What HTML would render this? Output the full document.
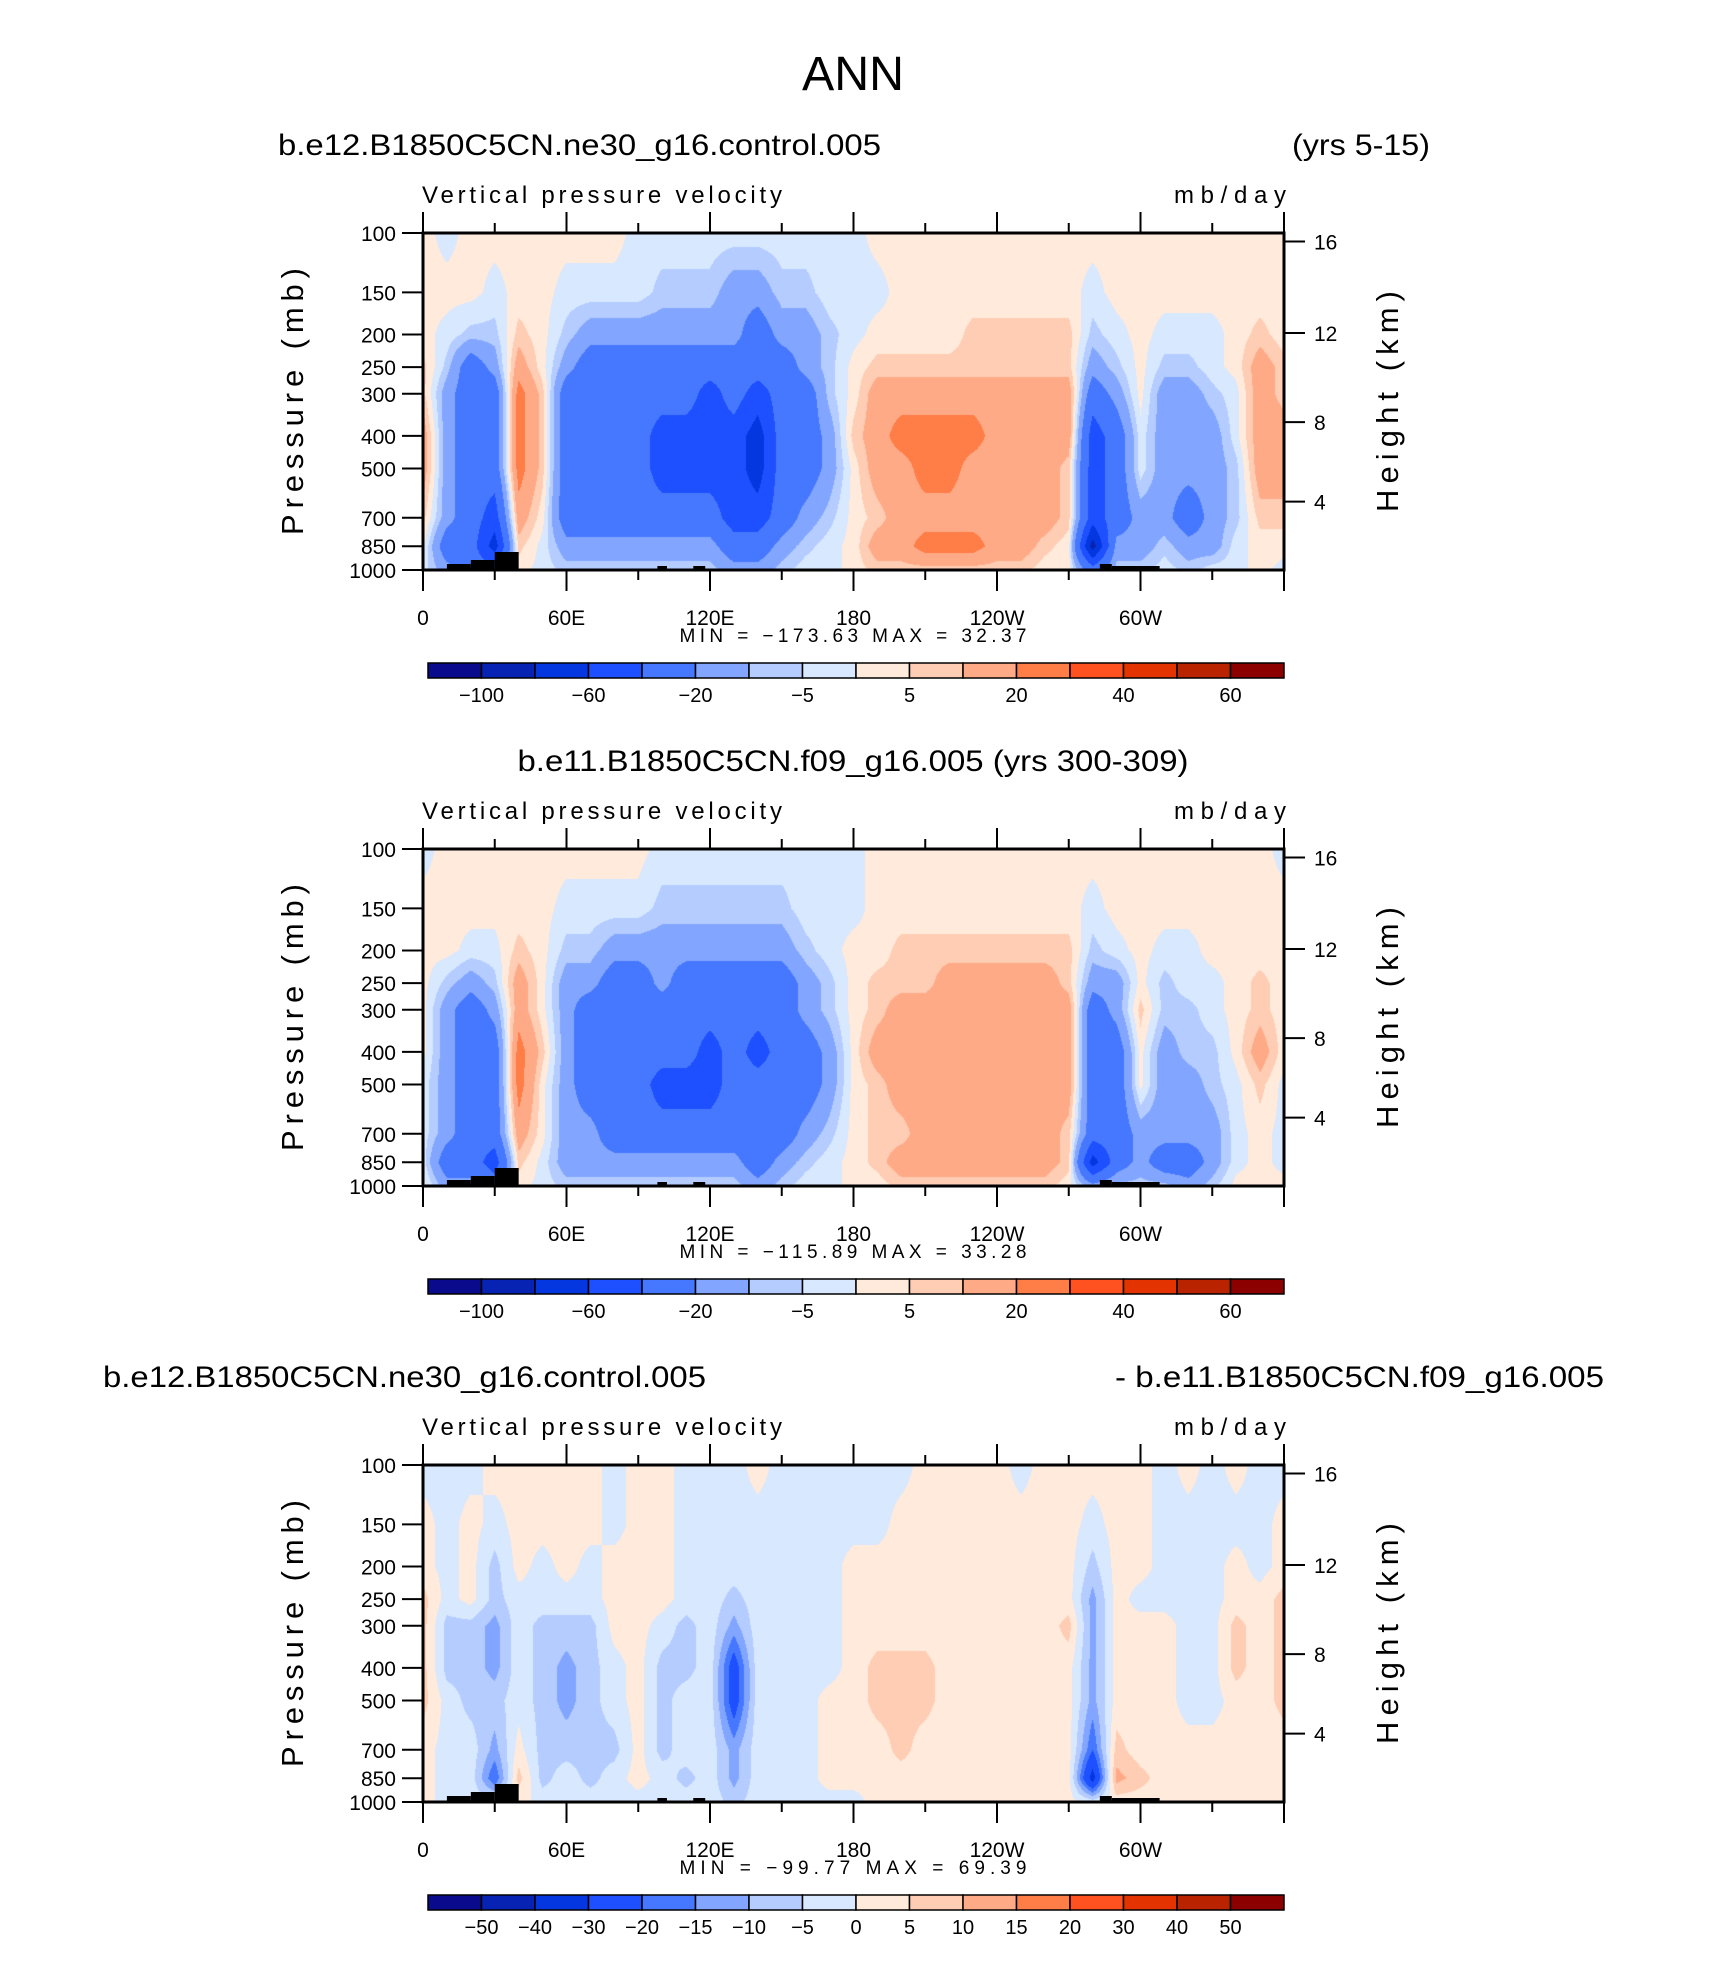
<!DOCTYPE html>
<html><head><meta charset="utf-8">
<style>
body{margin:0;background:#fff;}
#root{position:relative;width:1710px;height:1974px;overflow:hidden;background:#fff;font-family:"Liberation Sans",sans-serif;color:#000;}
</style></head>
<body>
<div id="root">
<svg id="svg" width="1710" height="1974" xmlns="http://www.w3.org/2000/svg" style="position:absolute;left:0;top:0"></svg>
</div>
<script>
// ---- data ----
const pressures = [100,150,200,250,300,400,500,700,850,1000];
const lons = [0,10,20,30,40,50,60,70,80,90,100,110,120,130,140,150,160,170,180,190,200,210,220,230,240,250,260,270,280,290,300,310,320,330,340,350];
const ctrlValues = [
[2,2,2,7,7,15,15,7,2,-2],[-2,2,-2,-7,-15,-15,-15,-15,-30,-15],[2,2,-7,-30,-30,-30,-30,-30,-30,-30],[2,-2,-7,-15,-30,-30,-30,-50,-70,-30],
[2,2,7,15,25,25,25,15,7,2],[2,2,2,2,7,7,7,2,-2,-2],[2,-2,-7,-15,-30,-30,-30,-30,-15,-7],[2,-2,-15,-30,-30,-30,-30,-30,-15,-7],
[2,-2,-15,-30,-30,-30,-30,-30,-15,-7],[-2,-2,-15,-30,-30,-30,-30,-30,-15,-7],[-2,-7,-15,-30,-30,-50,-50,-30,-15,-7],[-2,-7,-15,-30,-30,-50,-50,-30,-15,-7],
[-2,-7,-15,-30,-50,-50,-50,-30,-15,-7],[-2,-15,-15,-30,-30,-50,-50,-50,-30,-15],[-2,-15,-30,-30,-50,-70,-70,-50,-30,-15],[-2,-7,-15,-30,-30,-30,-30,-30,-15,-7],
[-2,-7,-15,-15,-30,-30,-30,-15,-7,-2],[-2,-2,-7,-7,-7,-15,-15,-7,-2,-2],[-2,-2,-2,2,2,7,2,2,2,2],[2,-2,2,7,15,15,15,7,15,7],
[2,2,2,7,15,25,15,15,15,7],[2,2,2,7,15,25,25,15,25,7],[2,2,2,7,15,25,25,15,25,7],[2,2,7,7,15,25,15,15,25,7],
[2,2,7,7,15,15,15,15,15,7],[2,2,7,7,15,15,15,15,15,7],[2,2,7,7,15,15,15,15,7,2],[2,2,7,7,15,15,7,7,2,2],
[2,-2,-7,-15,-30,-50,-50,-50,-90,-30],[2,2,-2,-7,-15,-30,-30,-30,-15,-7],[2,2,2,2,2,-2,-2,-15,-15,-7],[2,2,-2,-7,-15,-15,-15,-15,-7,-2],
[2,2,-2,-7,-15,-15,-15,-30,-15,-7],[2,2,-2,-2,-7,-15,-15,-15,-15,-2],[2,2,2,2,-2,-2,-7,-7,-2,-2],[2,2,7,15,15,15,15,7,2,2]];
const f09Values = [
[-2,2,2,2,2,2,-2,-2,-2,2],[2,2,2,-7,-15,-15,-15,-15,-30,-15],[2,2,-2,-15,-30,-30,-30,-30,-30,-15],[2,2,-2,-7,-15,-30,-30,-30,-50,-30],
[2,2,7,15,15,25,25,15,7,2],[2,2,2,2,2,7,2,2,-2,-2],[2,-2,-7,-15,-15,-15,-15,-15,-15,-7],[2,-2,-7,-15,-30,-30,-30,-15,-15,-7],
[2,-2,-15,-30,-30,-30,-30,-30,-15,-7],[2,-2,-15,-30,-30,-30,-30,-30,-15,-7],[-2,-7,-15,-15,-30,-30,-50,-30,-15,-7],[-2,-7,-15,-30,-30,-30,-50,-30,-15,-7],
[-2,-7,-15,-30,-30,-50,-50,-30,-15,-7],[-2,-7,-15,-30,-30,-30,-30,-30,-15,-7],[-2,-7,-15,-30,-30,-50,-30,-30,-30,-15],[-2,-7,-15,-30,-30,-30,-30,-30,-15,-7],
[-2,-2,-7,-15,-15,-30,-30,-15,-7,-2],[-2,-2,-2,-7,-7,-15,-15,-7,-2,-2],[-2,-2,2,2,2,2,2,2,2,2],[2,2,2,7,7,15,7,7,7,2],
[2,2,7,7,15,15,15,7,15,7],[2,2,7,7,15,15,15,15,15,7],[2,2,7,15,15,15,15,15,15,7],[2,2,7,15,15,15,15,15,15,7],
[2,2,7,15,15,15,15,15,15,7],[2,2,7,15,15,15,15,15,15,7],[2,2,7,15,15,15,15,15,15,7],[2,2,7,7,15,15,15,7,7,2],
[2,-2,-7,-15,-30,-30,-30,-30,-70,-15],[2,2,-2,-15,-15,-30,-30,-30,-30,-7],[2,2,2,2,7,2,2,-15,-15,-7],[2,2,-2,-7,-7,-15,-15,-15,-30,-7],
[2,2,-2,-2,-7,-7,-15,-15,-30,-15],[2,2,2,-2,-2,-7,-7,-15,-15,-7],[2,2,2,2,2,2,-2,-2,-2,2],[2,2,2,7,7,15,7,2,2,2]];
const diffValues = [
[-2,2,2,7,7,7,7,2,2,2],[-2,-2,-2,-2,-7,-7,-2,-2,-2,-2],[-2,2,2,2,-7,-7,-7,-2,-2,-2],[2,-2,-7,-7,-12,-12,-7,-12,-20,-2],
[2,2,2,-2,-2,-2,-2,2,7,2],[2,2,-2,-2,-7,-7,-7,-7,-7,-2],[2,2,2,-2,-7,-12,-12,-7,-2,-2],[2,2,-2,-2,-7,-7,-7,-7,-7,-2],
[-2,-2,2,2,2,-2,-2,-7,-2,-2],[2,2,2,2,2,2,2,2,2,-2],[2,2,2,2,-2,-7,-7,-7,-2,-2],[-2,-2,-2,-2,-7,-7,-2,-2,-7,-2],
[-2,-2,-2,-2,-2,-2,-2,-2,-2,-2],[-2,-2,-2,-7,-12,-25,-25,-12,-12,-7],[2,-2,-2,-2,-2,-2,-2,-2,-2,-2],[-2,-2,-2,-2,-2,-2,-2,-2,-2,-2],
[-2,-2,-2,-2,-2,-2,-2,-2,-2,-2],[-2,-2,-2,-2,-2,-2,2,2,2,-2],[-2,-2,2,2,2,2,2,2,2,-2],[-2,-2,2,2,2,7,7,2,2,2],
[-2,2,2,2,2,7,7,7,2,2],[2,2,2,2,2,7,7,2,2,2],[2,2,2,2,2,2,2,2,2,2],[2,2,2,2,2,2,2,2,2,2],
[2,2,2,2,2,2,2,2,2,2],[-2,2,2,2,2,2,2,2,2,2],[2,2,2,2,2,2,2,2,2,2],[2,2,2,2,7,2,2,2,2,2],
[2,-2,-7,-12,-12,-12,-12,-20,-35,-2],[2,2,2,2,2,2,2,7,12,2],[2,2,2,-2,2,2,2,2,7,2],[-2,-2,-2,-2,2,2,2,2,2,2],
[2,-2,-2,-2,-2,-2,-2,2,2,2],[-2,-2,-2,-2,-2,-2,-2,2,2,2],[2,-2,2,2,7,7,2,2,2,2],[-2,-2,-2,2,2,2,2,2,2,2]];
const levelsAbs = [-100,-80,-60,-40,-20,-10,-5,0,5,10,20,30,40,50,60];
const levelsDiff = [-50,-40,-30,-20,-15,-10,-5,0,5,10,15,20,30,40,50];
const barLabelsAbs = ["−100","","−60","","−20","","−5","","5","","20","","40","","60"];
const barLabelsDiff = ["−50","−40","−30","−20","−15","−10","−5","0","5","10","15","20","30","40","50"];
const colors = ["#0a0a8c","#0723b4","#0437e0","#1e50ff","#4678ff","#82a6ff","#b4ccff","#d7e8ff","#ffeadb","#ffcdb4","#ffaa87","#ff7d46","#ff5220","#e33300","#ba2300","#8c0000"];
const xTickLabels = ["0","60E","120E","180","120W","60W"];
const yTicks = [100,150,200,250,300,400,500,700,850,1000];
const heightTicks = [16,12,8,4];
const heightTickP = [106,198,364,627];
const topoLon = [[10,20,6],[20,30,10],[30,40,18],[98,102,4],[113,118,4],[283,288,6],[288,308,4]];
const panelMinMax = [["−173.63","32.37"],["−115.89","33.28"],["−99.77","69.39"]];

// ---- layout ----
const NS="http://www.w3.org/2000/svg";
const svg=document.getElementById('svg');
const PL=423, PW=861, PH=337, TOPS=[233,849,1465];
function el(tag,attrs,parent){const e=document.createElementNS(NS,tag);for(const k in attrs)e.setAttribute(k,attrs[k]);(parent||svg).appendChild(e);return e;}
function txt(s,x,y,size,anchor,extra,parent){const t=el('text',Object.assign({x:x,y:y,'font-size':size,'text-anchor':anchor||'start','font-family':'Liberation Sans, sans-serif'},extra||{}),parent);t.textContent=s;return t;}
const xScale=lon=>PL+lon/360*PW;
const yScale=(p,top)=>top+Math.log10(p/100)*PH;

const t0=txt("ANN",853,90,48,'middle',{textLength:102,lengthAdjust:'spacingAndGlyphs'});



function colorFor(v,levels){let i=0;while(i<levels.length&&v>=levels[i])i++;return colors[i];}
function hexRgb(h){return [parseInt(h.substr(1,2),16),parseInt(h.substr(3,2),16),parseInt(h.substr(5,2),16)];}

function drawPanel(k,values,levels,labels){
  const top=TOPS[k];
  const g=el('g',{});
  
  
  const cv=document.createElement('canvas');cv.width=PW;cv.height=PH;
  const ctx=cv.getContext('2d');const img=ctx.createImageData(PW,PH);
  const rowT=pressures.map(p=>Math.log10(p/100));
  const n=lons.length;
  const rgbCache={};
  for(let py=0;py<PH;py++){
    const t=(py+0.5)/PH;let r=0;while(r<rowT.length-2&&t>rowT[r+1])r++;
    let fy=(t-rowT[r])/(rowT[r+1]-rowT[r]);fy=Math.max(0,Math.min(1,fy));
    for(let px=0;px<PW;px++){
      const lon=(px+0.5)/PW*360;let c=Math.floor(lon/10);const fx=(lon-c*10)/10;c=c%n;const c2=(c+1)%n;
      const v=(values[c][r]*(1-fx)+values[c2][r]*fx)*(1-fy)+(values[c][r+1]*(1-fx)+values[c2][r+1]*fx)*fy;
      const col=colorFor(v,levels);const rgb=rgbCache[col]||(rgbCache[col]=hexRgb(col));
      const o=(py*PW+px)*4;img.data[o]=rgb[0];img.data[o+1]=rgb[1];img.data[o+2]=rgb[2];img.data[o+3]=255;
    }
  }
  ctx.putImageData(img,0,0);
  const im=el('image',{x:PL,y:top,width:PW,height:PH,href:cv.toDataURL()},g);
  
  
  topoLon.forEach(tp=>{const h=tp[2];const r=el('rect',{x:xScale(tp[0]),y:top+PH-h,width:xScale(tp[1])-xScale(tp[0]),height:h,fill:'#000'},g);
    
    });
  const fr=el('rect',{x:PL,y:top,width:PW,height:PH,fill:'none',stroke:'#000','stroke-width':3},g);
  
  
  for(let lon=0;lon<=360;lon+=30){
    const x=xScale(lon);const major=lon%60===0;const L=major?21:10;
    el('line',{x1:x,x2:x,y1:top,y2:top-L,stroke:'#000','stroke-width':2},g);
    el('line',{x1:x,x2:x,y1:top+PH,y2:top+PH+L,stroke:'#000','stroke-width':2},g);
  }
  xTickLabels.forEach((s,i)=>{const t=txt(s,xScale(i*60),top+392,21,'middle',{},g);
    
    });
  yTicks.forEach(p=>{const y=yScale(p,top);el('line',{x1:PL-21,x2:PL,y1:y,y2:y,stroke:'#000','stroke-width':2},g);
    const t=txt(String(p),PL-27,y+8,21,'end',{},g);
    
    });
  heightTicks.forEach((h,i)=>{const y=yScale(heightTickP[i],top);el('line',{x1:PL+PW,x2:PL+PW+21,y1:y,y2:y,stroke:'#000','stroke-width':2},g);
    const t=txt(String(h),PL+PW+30,y+8,21,'start',{},g);
    
    });
  const yl=txt("Pressure  (mb)",0,0,31,'middle',{transform:`translate(303,${top+PH/2}) rotate(-90)`,textLength:267,lengthAdjust:'spacing'},g);
  
  
  const yr=txt("Height  (km)",0,0,31,'middle',{transform:`translate(1398,${top+PH/2}) rotate(-90)`,textLength:221,lengthAdjust:'spacing'},g);
  
  
  const vl=txt("Vertical pressure velocity",PL-1,top-30,24,'start',{textLength:360,lengthAdjust:'spacing'},g);
  
  
  const ul=txt("mb/day",PL+PW+2,top-30,24,'end',{textLength:112,lengthAdjust:'spacing'},g);
  
  
  const mm=txt(`MIN = ${panelMinMax[k][0]}   MAX =  ${panelMinMax[k][1]}`,853,top+409,19,'middle',{'xml:space':'preserve',textLength:347,lengthAdjust:'spacing'},g);
  
  
  const cb=el('g',{},g);
  
  
  const bx=428,bw=856,by=top+430,bh=15,cw=bw/16;
  colors.forEach((c,i)=>{const r=el('rect',{x:bx+i*cw,y:by,width:cw,height:bh,fill:c,stroke:'#000','stroke-width':1.5},cb);
    
    });
  labels.forEach((s,i)=>{if(!s)return;const t=txt(s,bx+(i+1)*cw,by+bh+24,20,'middle',{},cb);
    
    });
}
drawPanel(0,ctrlValues,levelsAbs,barLabelsAbs);
drawPanel(1,f09Values,levelsAbs,barLabelsAbs);
drawPanel(2,diffValues,levelsDiff,barLabelsDiff);

const st=[["b.e12.B1850C5CN.ne30_g16.control.005",278,155,'start','title-1-case',603],["(yrs 5-15)",1430,155,'end','title-1-years',138],
["b.e11.B1850C5CN.f09_g16.005 (yrs 300-309)",853,771,'middle','title-2',671],
["b.e12.B1850C5CN.ne30_g16.control.005",103,1387,'start','title-3-case',603],["- b.e11.B1850C5CN.f09_g16.005",1604,1387,'end','title-3-minus',489]];
st.forEach(s=>{const t=txt(s[0],s[1],s[2],30,s[3],{textLength:s[5],lengthAdjust:'spacingAndGlyphs'});
  
  });
</script>
</body></html>
